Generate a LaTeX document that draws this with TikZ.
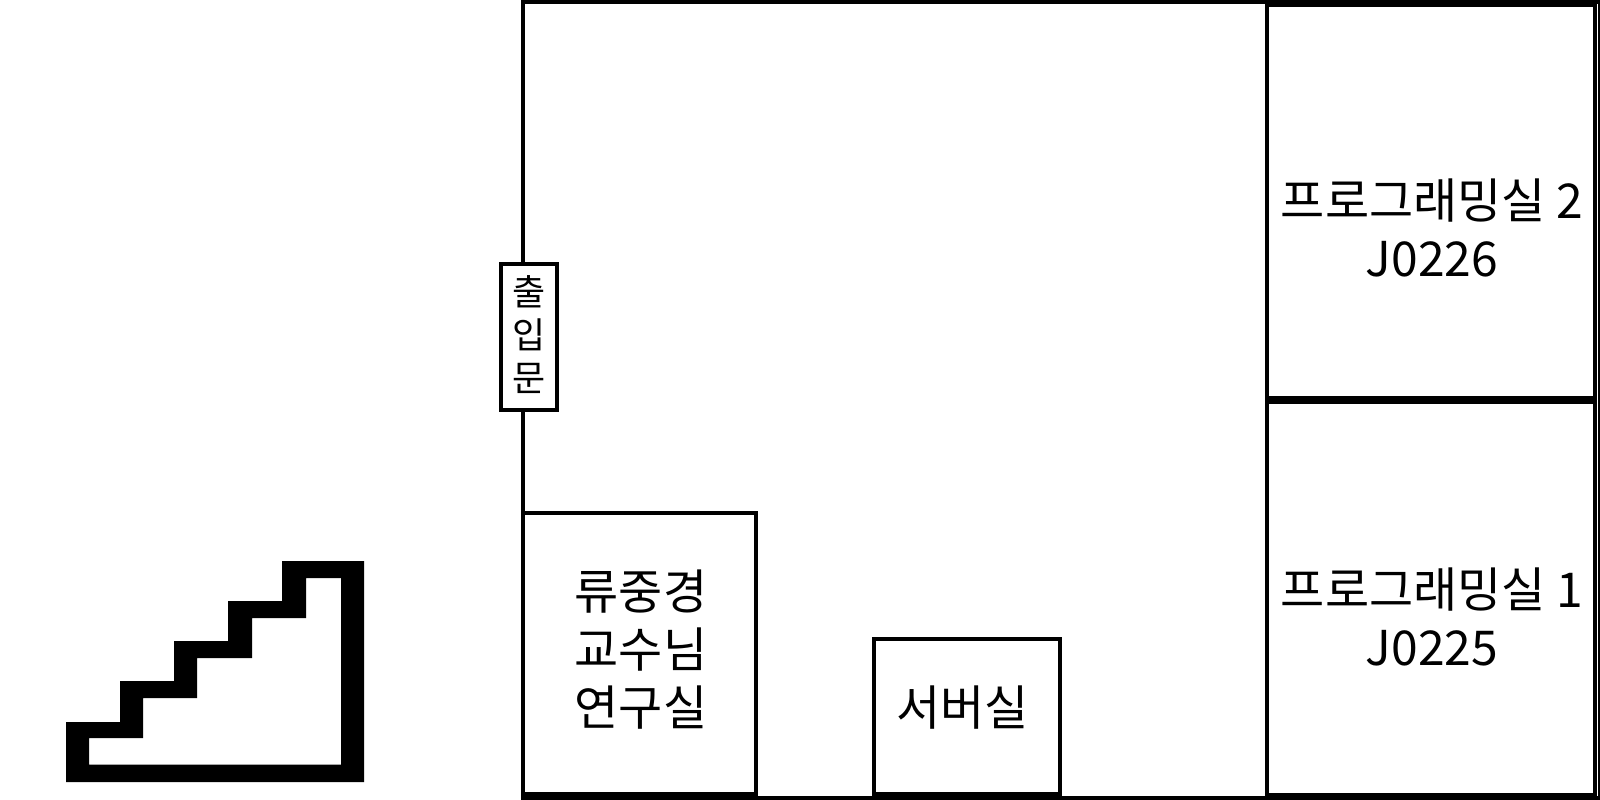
\documentclass[tikz,border=0pt]{standalone}
\usepackage{fontspec}
\setmainfont{Noto Sans CJK KR}
\usetikzlibrary{positioning}
\begin{document}
\begin{tikzpicture}[
        x=1pt, y=-1pt,
        room/.style={
            rectangle, draw=black, fill=white, line width=4pt, inner sep=0pt
        },
        roomtext/.style={
            inner sep=0pt, align=center, font=\fontsize{48}{58}\selectfont
        },
        doortext/.style={
            inner sep=0pt, align=center, font=\fontsize{36}{43}\selectfont
        }
    ]
    \useasboundingbox (0,0) rectangle (1600,800);
    
    % Floor outline
    \node (floor) [room, minimum width=1076.5pt, minimum height=796pt] at (1061.25,400) {};
    
    % Rooms on the right
    \node (lab2) [room, minimum width=328pt, minimum height=393pt] at (1431,201.5) {};
    \node (lab1) [room, minimum width=328pt, minimum height=393pt] at (1431,598.5) {};
    \node (lab2name) [roomtext] at ([xshift=1pt,yshift=-26pt]lab2.center) {프로그래밍실 2\\J0226};
    \node (lab1name) [roomtext] at ([xshift=1pt,yshift=-18.5pt]lab1.center) {프로그래밍실 1\\J0225};
    
    % Rooms at the bottom
    \node (office) [room, minimum width=233pt, minimum height=281pt] at (639.5,653.5) {};
    \node (server) [room, minimum width=186pt, minimum height=155pt] at (967,716.5) {};
    \node (officename) [roomtext] at ([xshift=1.5pt,yshift=4pt]office.center) {류중경\\교수님\\연구실};
    \node (servername) [roomtext] at ([xshift=-4.5pt,yshift=8.5pt]server.center) {서버실};
    
    % Entrance
    \node (entrance) [room, minimum width=56pt, minimum height=146pt] at (529,337) {};
    \node (entrancename) [doortext] at ([yshift=2pt]entrance.center) {출\\입\\문};
    
    % Stairs
    \fill [even odd rule]
        (66,782) -- (364,782) -- (364,561) -- (282,561) -- (282,601) -- (228,601) -- (228,641)
        -- (174,641) -- (174,681) -- (120,681) -- (120,722) -- (66,722) -- cycle
        (89,764.5) -- (341,764.5) -- (341,578) -- (306,578) -- (306,618) -- (252,618) -- (252,658)
        -- (197,658) -- (197,698) -- (143,698) -- (143,738) -- (89,738) -- cycle;
    
\end{tikzpicture}
\end{document}
